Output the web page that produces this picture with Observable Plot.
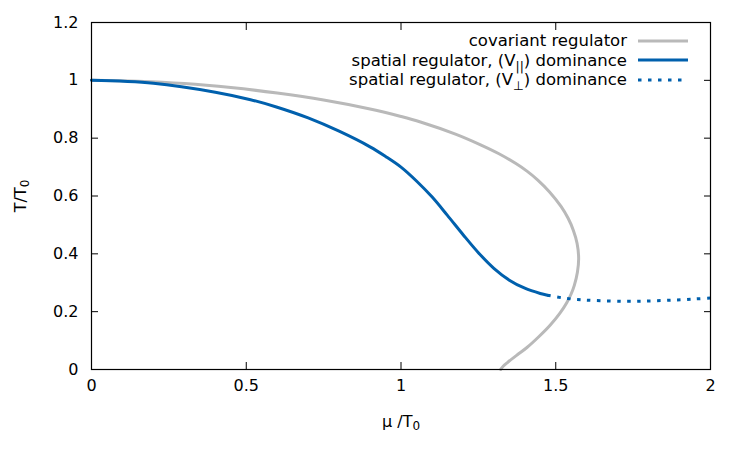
<!DOCTYPE html>
<html>
<head>
<meta charset="utf-8">
<script src="https://cdn.jsdelivr.net/npm/d3@7"></script>
<script src="https://cdn.jsdelivr.net/npm/@observablehq/plot@0.6"></script>
<style>
  body { margin: 0; background: #fff; font-family: "DejaVu Sans", sans-serif; }
  #chart { position: relative; width: 750px; height: 450px; }
  #legend { position: absolute; top: 31px; right: 62px; font-size: 16.5px; color: #000; }
  #legend .row { display: flex; align-items: center; justify-content: flex-end; height: 19.5px; white-space: nowrap; }
  #legend .row svg { margin-left: 11px; }
  #legend sub { font-size: 0.75em; vertical-align: -0.4em; line-height: 0; }
</style>
</head>
<body>
<div id="chart"></div>
<script>
// Phase boundary T/T0 versus mu/T0

// covariant regulator (turns back on itself, drawn in order)
const covMu = [0, 0.15, 0.3, 0.45, 0.6, 0.75, 0.9, 1.0, 1.063, 1.176, 1.257, 1.315, 1.370, 1.407,
               1.442, 1.480, 1.517, 1.540, 1.557, 1.569, 1.574, 1.570, 1.560, 1.550, 1.536, 1.513, 1.481, 1.446, 1.407, 1.375, 1.344, 1.331, 1.322];
const covT  = [1.0, 0.997, 0.989, 0.975, 0.956, 0.932, 0.901, 0.875, 0.856, 0.814, 0.777, 0.747, 0.713, 0.686,
               0.655, 0.614, 0.564, 0.523, 0.481, 0.436, 0.384, 0.336, 0.291, 0.262, 0.232, 0.194, 0.152, 0.114, 0.076, 0.050, 0.024, 0.012, 0.0];

// spatial regulator, V_parallel dominance
const parMu = [0, 0.2, 0.4, 0.514, 0.6, 0.7, 0.8, 0.9, 0.95, 1.0, 1.05, 1.1, 1.15, 1.2, 1.25, 1.3, 1.35, 1.4, 1.45, 1.473];
const parT  = [1.0, 0.990, 0.959, 0.933, 0.907, 0.870, 0.824, 0.770, 0.737, 0.700, 0.652, 0.597, 0.533, 0.467, 0.404, 0.350, 0.309, 0.281, 0.263, 0.257];

// spatial regulator, V_perp dominance
const perpMu = [1.473, 1.52, 1.57, 1.62, 1.72, 1.8, 1.88, 1.95, 2.0];
const perpT  = [0.257, 0.248, 0.242, 0.239, 0.236, 0.237, 0.240, 0.244, 0.247];

const xTicks = [0, 0.5, 1, 1.5, 2];
const yTicks = [0, 0.2, 0.4, 0.6, 0.8, 1, 1.2];
const xLabel = "μ /T_{0}";
const yLabel = "T/T_{0}";

const legendLabels = ["covariant regulator", "spatial regulator, (V_{||}) dominance", "spatial regulator, (V_{⊥}) dominance"];
const seriesColors = ["#b9b9b9", "#0060ad", "#0060ad"];
const seriesDash = [null, null, "3.5,6.5"];

const toRows = (mu, T) => mu.map((m, i) => ({mu: m, T: T[i]}));
const cov = toRows(covMu, covT);
const par = toRows(parMu, parT);
const perp = toRows(perpMu, perpT);

const fmt = d => String(d);

const chart = Plot.plot({
  width: 750,
  height: 450,
  marginLeft: 91,
  marginRight: 40,
  marginTop: 22,
  marginBottom: 81,
  style: { fontFamily: "DejaVu Sans", fontSize: "16px", color: "#000", background: "#fff" },
  x: { domain: [0, 2] },
  y: { domain: [0, 1.2] },
  marks: [
    Plot.axisX({ anchor: "bottom", ticks: xTicks, tickSize: -7, tickPadding: 17, tickFormat: fmt,
                 label: xLabel, labelAnchor: "center", labelOffset: 57, labelArrow: "none" }),
    Plot.axisX({ anchor: "top", ticks: xTicks, tickSize: -7, tickFormat: () => "", label: null }),
    Plot.axisY({ anchor: "left", ticks: yTicks, tickSize: -7, tickPadding: 20, tickFormat: fmt,
                 label: yLabel, labelAnchor: "center", labelOffset: 77, labelArrow: "none" }),
    Plot.axisY({ anchor: "right", ticks: yTicks, tickSize: -7, tickFormat: () => "", label: null }),
    Plot.line(cov, { x: "mu", y: "T", stroke: seriesColors[0], strokeWidth: 3, curve: "catmull-rom" }),
    Plot.line(perp, { x: "mu", y: "T", stroke: seriesColors[2], strokeWidth: 3, strokeDasharray: seriesDash[2], strokeLinecap: "butt", curve: "catmull-rom" }),
    Plot.line(par, { x: "mu", y: "T", stroke: seriesColors[1], strokeWidth: 3, curve: "catmull-rom" }),
    Plot.frame({ stroke: "#000", strokeWidth: 1.2 })
  ]
});

const host = document.getElementById("chart");
host.appendChild(chart);

// turn "_{...}" in axis labels into lowered, smaller tspans
d3.select(chart).selectAll("text").each(function () {
  const t = this.textContent;
  if (!t.includes("_{")) return;
  const node = d3.select(this);
  node.text(null);
  t.split(/(_\{[^}]*\})/).forEach(part => {
    if (!part) return;
    const m = part.match(/^_\{([^}]*)\}$/);
    if (m) {
      node.append("tspan").attr("font-size", "0.75em").attr("dy", "0.3em").text(m[1]);
    } else {
      node.append("tspan").text(part);
    }
  });
});

// legend, top right inside the frame
const legend = d3.select(host).append("div").attr("id", "legend");
legendLabels.forEach((label, i) => {
  const row = legend.append("div").attr("class", "row");
  row.append("span").html(label.replace(/_\{([^}]*)\}/g, "<sub>$1</sub>"));
  const s = row.append("svg").attr("width", 50).attr("height", 6);
  s.append("line").attr("x1", 0).attr("x2", 50).attr("y1", 3).attr("y2", 3)
    .attr("stroke", seriesColors[i]).attr("stroke-width", 3)
    .attr("stroke-dasharray", seriesDash[i]);
});
</script>
</body>
</html>
